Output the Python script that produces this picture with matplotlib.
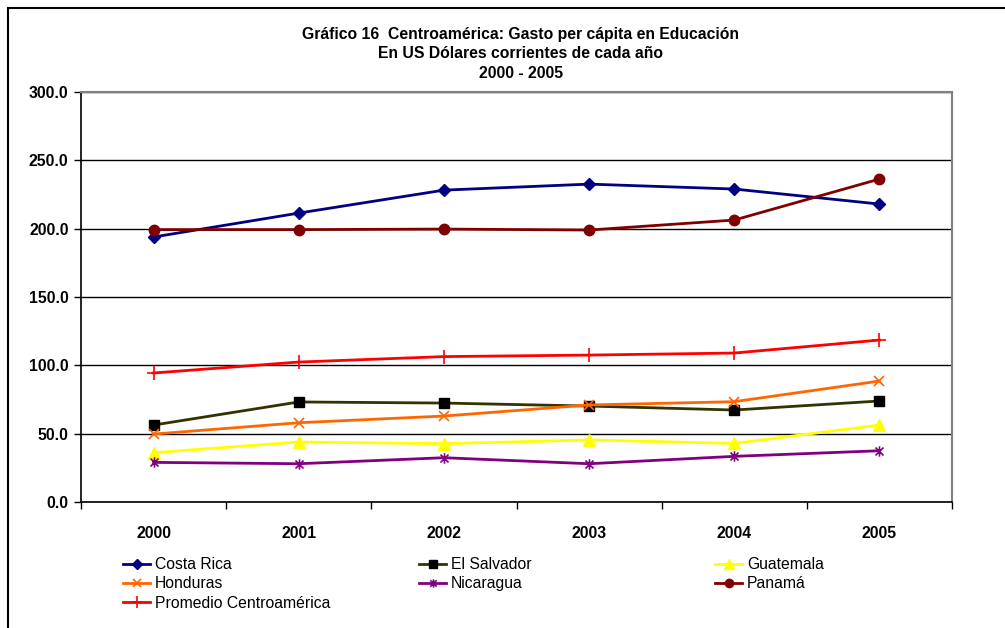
import matplotlib.pyplot as plt
from matplotlib.path import Path
from matplotlib.patches import Rectangle
from matplotlib.ticker import FixedLocator, NullFormatter

plt.rcParams['font.family'] = ['Liberation Sans', 'DejaVu Sans']

years = ['2000', '2001', '2002', '2003', '2004', '2005']
costa_rica = [193.9, 211.4, 228.2, 232.6, 229.0, 218.0]
el_salvador = [56.3, 73.2, 72.4, 70.2, 67.3, 73.9]
guatemala = [36.1, 43.9, 42.7, 45.4, 42.9, 56.3]
honduras = [49.7, 58.0, 62.9, 71.0, 73.4, 88.5]
nicaragua = [29.0, 28.0, 32.4, 28.0, 33.4, 37.5]
panama = [199.3, 199.3, 199.7, 199.0, 206.3, 236.3]
promedio = [94.4, 102.4, 106.4, 107.5, 109.0, 118.5]

# asterisk marker like excel (x with vertical bar)
star = Path([(-1, -1), (1, 1), (-1, 1), (1, -1), (0, -1.3), (0, 1.3)],
            [Path.MOVETO, Path.LINETO, Path.MOVETO, Path.LINETO, Path.MOVETO, Path.LINETO])

fs = 11.3

fig = plt.figure(figsize=(10.05, 6.28), dpi=100)
ax = fig.add_axes([81 / 1005, 1 - 502 / 628, 871 / 1005, 410 / 628])

x = list(range(len(years)))
lw = 2.0
lines = {}
lines['Costa Rica'] = ax.plot(x, costa_rica, color='#000080', lw=lw, marker='D', ms=6,
                              mfc='#000080', mec='#000080')[0]
lines['El Salvador'] = ax.plot(x, el_salvador, color='#333300', lw=lw, marker='s', ms=7.5,
                               mfc='black', mec='black')[0]
lines['Guatemala'] = ax.plot(x, guatemala, color='#FFFF00', lw=lw, marker='^', ms=8.5,
                             mfc='#FFFF00', mec='#FFFF00')[0]
lines['Honduras'] = ax.plot(x, honduras, color='#FF6600', lw=lw, marker='x', ms=7.5,
                            mew=1.2, mec='#FF6600')[0]
lines['Nicaragua'] = ax.plot(x, nicaragua, color='#800080', lw=lw, marker=star, ms=7.5,
                             mew=1.2, mec='#800080')[0]
lines['Panamá'] = ax.plot(x, panama, color='#800000', lw=lw, marker='o', ms=7.5,
                          mfc='#800000', mec='#800000')[0]
lines['Promedio Centroamérica'] = ax.plot(x, promedio, color='#FF0000', lw=lw, marker='+', ms=10,
                                          mew=1.2, mec='#FF0000')[0]

ax.set_xlim(-0.5, 5.5)
ax.set_ylim(0, 300)
ax.set_yticks([0, 50, 100, 150, 200, 250, 300])
ax.set_yticklabels(['%.1f' % v for v in [0, 50, 100, 150, 200, 250, 300]],
                   fontsize=fs, fontweight='bold')
ax.set_xticks(x)
ax.set_xticklabels(years, fontsize=fs, fontweight='bold')
ax.xaxis.set_minor_locator(FixedLocator([i - 0.5 for i in range(7)]))
ax.xaxis.set_minor_formatter(NullFormatter())
ax.tick_params(axis='x', which='major', length=0, pad=17)
ax.tick_params(axis='x', which='minor', length=5, width=1, direction='out')
ax.tick_params(axis='y', length=5, width=1, direction='out', pad=4)
ax.yaxis.grid(True, color='black', lw=1)
ax.set_axisbelow(True)
for s in ['left', 'bottom']:
    ax.spines[s].set_color('black')
    ax.spines[s].set_linewidth(1.2)
for s in ['top', 'right']:
    ax.spines[s].set_color('#808080')
    ax.spines[s].set_linewidth(1.5)

fig.text(0.518, 1 - 34 / 628, 'Gráfico 16  Centroamérica: Gasto per cápita en Educación',
         ha='center', va='center', fontsize=fs, fontweight='bold')
fig.text(0.518, 1 - 53 / 628, 'En US Dólares corrientes de cada año',
         ha='center', va='center', fontsize=fs, fontweight='bold')
fig.text(0.518, 1 - 73 / 628, '2000 - 2005',
         ha='center', va='center', fontsize=fs, fontweight='bold')

cols = [['Costa Rica', 'Honduras', 'Promedio Centroamérica'],
        ['El Salvador', 'Nicaragua'],
        ['Guatemala', 'Panamá']]
col_x = [123, 419, 715]
for names, cx in zip(cols, col_x):
    leg = fig.legend([lines[n] for n in names], names, loc='upper left',
                     bbox_to_anchor=(cx / 1005, 1 - 557 / 628), frameon=False,
                     fontsize=fs, borderpad=0, borderaxespad=0, handlelength=1.75,
                     handletextpad=0.3, labelspacing=0.28, markerscale=0.8)

fig.patches.append(Rectangle((8 / 1005, -0.1), 1.2, 1 - 8 / 628 + 0.1, transform=fig.transFigure,
                             fill=False, edgecolor='black', lw=1.5))

fig.savefig('out.png', dpi=100)
